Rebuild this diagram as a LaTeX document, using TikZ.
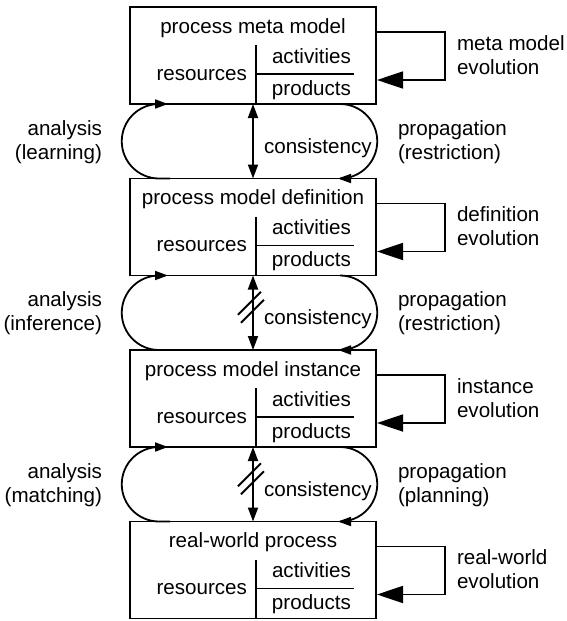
\documentclass[tikz,border=0pt]{standalone}
\usepackage{fontspec}
\setmainfont{Liberation Sans}
\usetikzlibrary{arrows.meta,calc}
\begin{document}
\begin{tikzpicture}[x=1pt,y=-1pt,
  every node/.style={font=\fontsize{20.6}{24}\selectfont, inner sep=0pt, outer sep=0pt},
  line/.style={line width=1.8pt},
  box/.style={draw, line width=1.8pt, minimum width=246pt, minimum height=97pt},
  smalltip/.style={-{Triangle[length=13pt,width=9pt]}},
  dbl/.style={{Triangle[length=14pt,width=10pt]}-{Triangle[length=14pt,width=10pt]}},
  evotip/.style={-{Triangle[length=26pt,width=17pt]}}
]
\useasboundingbox (0,0) rectangle (566,621);

% the four levels: a box with title, resources and activities/products
\foreach \i/\T/\title/\evo in {1/7/{process meta model}/{meta model},
    2/178.5/{process model definition}/{definition},
    3/350/{process model instance}/{instance},
    4/521.5/{real-world process}/{real-world}} {
  \node[box] (b\i) at (253,\T+48.5) {};
  \node[anchor=base] (t\i) at ($(b\i.north)+(0,26)$) {\title};
  \node[anchor=base] (a\i) at ($(b\i.north)+(58.5,56)$) {activities};
  \node[anchor=base] (p\i) at ($(b\i.north)+(58.5,88)$) {products};
  \node[anchor=base east] (r\i) at ($(b\i.north)+(-6,73)$) {resources};
  \draw[line] ($(b\i.south)+(3,0)$) -- ($(b\i.north)+(3,38)$);
  \draw[line] ($(b\i.north)+(3,67)$) -- ($(b\i.north)+(101,67)$);
  % self loop on the right
  \draw[line,evotip] ($(b\i.north east)+(0,25)$) -| ($(b\i.north east)+(69,73)$)
      -- ($(b\i.north east)+(1,73)$);
  \node[anchor=west, align=left] (e\i) at ($(b\i.north east)+(81,50.2)$)
      {\strut\evo\\\strut evolution};
}

% analysis / propagation cycles between neighbouring levels
\foreach \i/\j/\an/\pr in {1/2/learning/restriction, 2/3/inference/restriction,
    3/4/matching/planning} {
  \draw[line] ($(b\j.north west)+(40,0)$) -- ($(b\j.north west)+(29,0)$)
      arc[start angle=90,end angle=270,radius=37.25];
  \draw[line,smalltip] ($(b\i.south west)+(10,0)$) -- ($(b\i.south west)+(38,0)$);
  \draw[line] ($(b\i.south east)+(-36,0)$)
      arc[start angle=-90,end angle=90,radius=37.25];
  \draw[line,smalltip] ($(b\j.north east)+(-10,0)$) -- ($(b\j.north east)+(-38,0)$);
  \draw[line,dbl] (b\i.south) -- (b\j.north);
  \node[anchor=base west] (c\i) at ($(b\i.south)+(11,49.25)$) {consistency};
  \node[anchor=east, align=right] (la\i) at ($(b\i.south west)+(-28,38.45)$)
      {\strut analysis\\\strut(\an)};
  \node[anchor=west, align=left] (lp\i) at ($(b\i.south east)+(22,38.45)$)
      {\strut propagation\\\strut(\pr)};
}

% broken consistency marks
\foreach \i in {2,3} {
  \coordinate (m\i) at ($(b\i.south)+(0,37.25)$);
  \draw[line] ($(m\i)+(-15,2)$) -- ($(m\i)+(8,-21)$);
  \draw[line] ($(m\i)+(-12,10)$) -- ($(m\i)+(11,-13)$);
}
\end{tikzpicture}
\end{document}
